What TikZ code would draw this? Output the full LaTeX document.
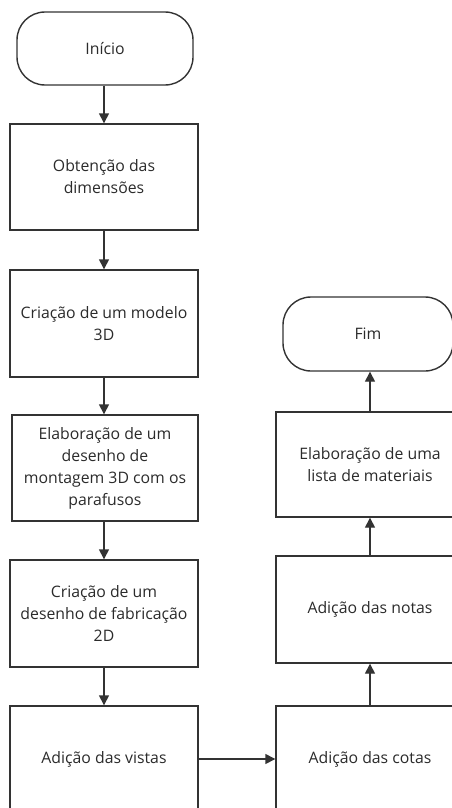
\documentclass[tikz,border=0pt]{standalone}
\usepackage{fontspec}
\setmainfont{Open Sans}
\usetikzlibrary{arrows.meta}
\definecolor{linecol}{HTML}{333333}
\definecolor{textcol}{HTML}{2B2B2B}
\tikzset{
  procbox/.style={draw=linecol, line width=1.4pt, rectangle, align=center,
    text=textcol, font=\fontsize{15.8}{22}\selectfont, inner sep=0pt},
  termbox/.style={procbox, rounded corners=28pt},
  flow/.style={draw=linecol, line width=1.4pt, -{Triangle[length=10pt,width=10pt]}}
}
\begin{document}
\begin{tikzpicture}[x=1pt,y=-1pt]
\useasboundingbox (0,0) rectangle (452,808);
\fill[white] (0,0) rectangle (452,808);
\node[termbox, minimum width=176pt, minimum height=73pt] (start) at (105,48.5) {Início};
\node[procbox, minimum width=188pt, minimum height=106pt] (b1) at (104,177) {Obtenção das\\dimensões};
\node[procbox, minimum width=188pt, minimum height=107pt] (b2) at (104,323.5) {Criação de um modelo\\3D};
\node[procbox, minimum width=186pt, minimum height=106pt] (b3) at (105,468) {Elaboração de um\\desenho de\\montagem 3D com os\\parafusos};
\node[procbox, minimum width=188pt, minimum height=107pt] (b4) at (104,613.5) {Criação de um\\desenho de fabricação\\2D};
\node[procbox, minimum width=188pt, minimum height=106pt] (b5) at (104,759) {Adição das vistas};
\node[procbox, minimum width=188pt, minimum height=106pt] (b6) at (370,759) {Adição das cotas};
\node[procbox, minimum width=188pt, minimum height=107pt] (b7) at (370,609.5) {Adição das notas};
\node[procbox, minimum width=188pt, minimum height=105pt] (b8) at (370,464.5) {Elaboração de uma\\lista de materiais};
\node[termbox, minimum width=170pt, minimum height=74pt] (fim) at (368,334) {Fim};
\draw[flow] (start.south -| b1.north) -- (b1.north);
\draw[flow] (b1.south) -- (b2.north);
\draw[flow] (b2.south) -- (b2.south |- b3.north);
\draw[flow] (b4.north |- b3.south) -- (b4.north);
\draw[flow] (b4.south) -- (b5.north);
\draw[flow] (b5.east) -- (b6.west);
\draw[flow] (b6.north) -- (b7.south);
\draw[flow] (b7.north) -- (b8.south);
\draw[flow] (b8.north) -- (fim.south -| b8.north);
\end{tikzpicture}
\end{document}
